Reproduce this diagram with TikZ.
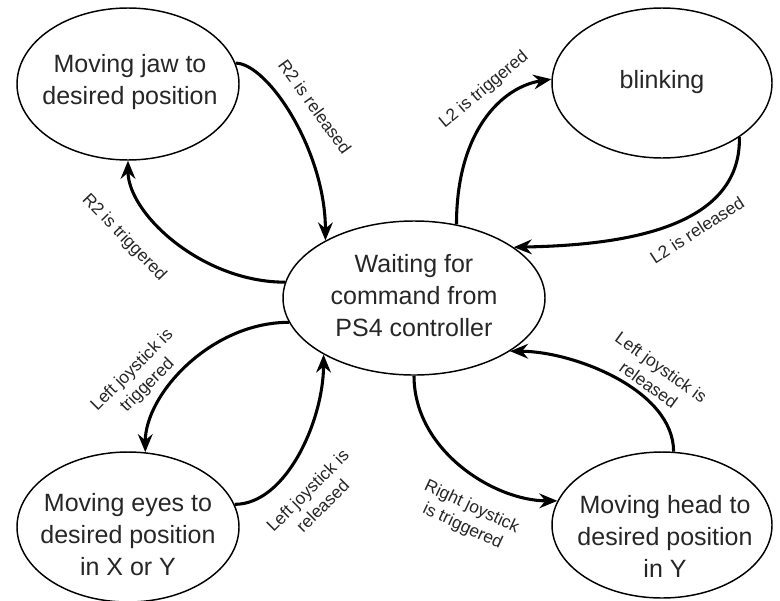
\documentclass[tikz,border=0pt]{standalone}
\usepackage{fontspec}
\setmainfont{Liberation Sans}
\usetikzlibrary{shapes.geometric,arrows.meta}
\begin{document}
\begin{tikzpicture}[x=0.75pt,y=-0.75pt,
  state/.style={ellipse,draw,line width=1.1pt,inner sep=0pt},
  stxt/.style={align=center,font=\fontsize{18.75}{24}\selectfont,inner sep=0pt,text=black!85},
  lbl/.style={align=center,font=\fontsize{13}{16}\selectfont,inner sep=0pt,text=black!85},
  arr/.style={line width=2.3pt,-{Stealth[length=13.5pt,width=11pt,inset=4.5pt]}}]
\useasboundingbox (0,0) rectangle (780,600);
% states
\node[state,minimum width=166.5pt,minimum height=114pt] (jaw) at (128,84) {};
\node[state,minimum width=165pt,minimum height=112.5pt] (blink) at (662,83) {};
\node[state,minimum width=196.5pt,minimum height=115.5pt] (wait) at (414,298) {};
\node[state,minimum width=166.5pt,minimum height=112.5pt] (eyes) at (128,527) {};
\node[state,minimum width=165pt,minimum height=109.5pt] (head) at (662,525) {};
% state texts
\node[stxt] (jawt) at (130,82) {Moving jaw to\\desired position};
\node[stxt] (blinkt) at (662,82) {blinking};
\node[stxt] (waitt) at (414,296) {Waiting for\\command from\\PS4 controller};
\node[stxt] (eyest) at (128,535) {Moving eyes to\\desired position\\in X or Y};
\node[stxt] (headt) at (665,536) {Moving head to\\desired position\\in Y};
% transitions
\draw[arr] (jaw.11) .. controls +(32,0) and +(0,-90) .. (wait.147);
\draw[arr] (wait.173) .. controls +(-83,0) and +(0,53) .. (jaw.south);
\draw[arr] (wait.60) .. controls +(0,-93) and +(-50,8) .. (blink.178);
\draw[arr] (blink.-35) .. controls +(2,92) and +(107,-2) .. (wait.27);
\draw[arr] (wait.191) .. controls +(-78,0) and +(0,-58) .. (eyes.77);
\draw[arr] (eyes.12) .. controls +(52,0) and +(0,65) .. (wait.212);
\draw[arr] (wait.south) .. controls +(0,75) and +(-63,0) .. (head.167);
\draw[arr] (head.81) .. controls +(0,-62) and +(63,0) .. (wait.-29);
% labels
\node[lbl,rotate=-54] (l1) at (315,107) {R2 is released};
\node[lbl,rotate=-46] (l2) at (124,238) {R2 is triggered};
\node[lbl,rotate=40] (l3) at (484,90) {L2 is triggered};
\node[lbl,rotate=33] (l4) at (697,230) {L2 is released};
\node[lbl,rotate=45] (l5) at (140,378) {Left joystick is\\triggered};
\node[lbl,rotate=45] (l6) at (315,498) {Left joystick is\\released};
\node[lbl,rotate=-25] (l7) at (467,517) {Right joystick\\is triggered};
\node[lbl,rotate=-36] (l8) at (655,376) {Left joystick is\\released};
\end{tikzpicture}
\end{document}
